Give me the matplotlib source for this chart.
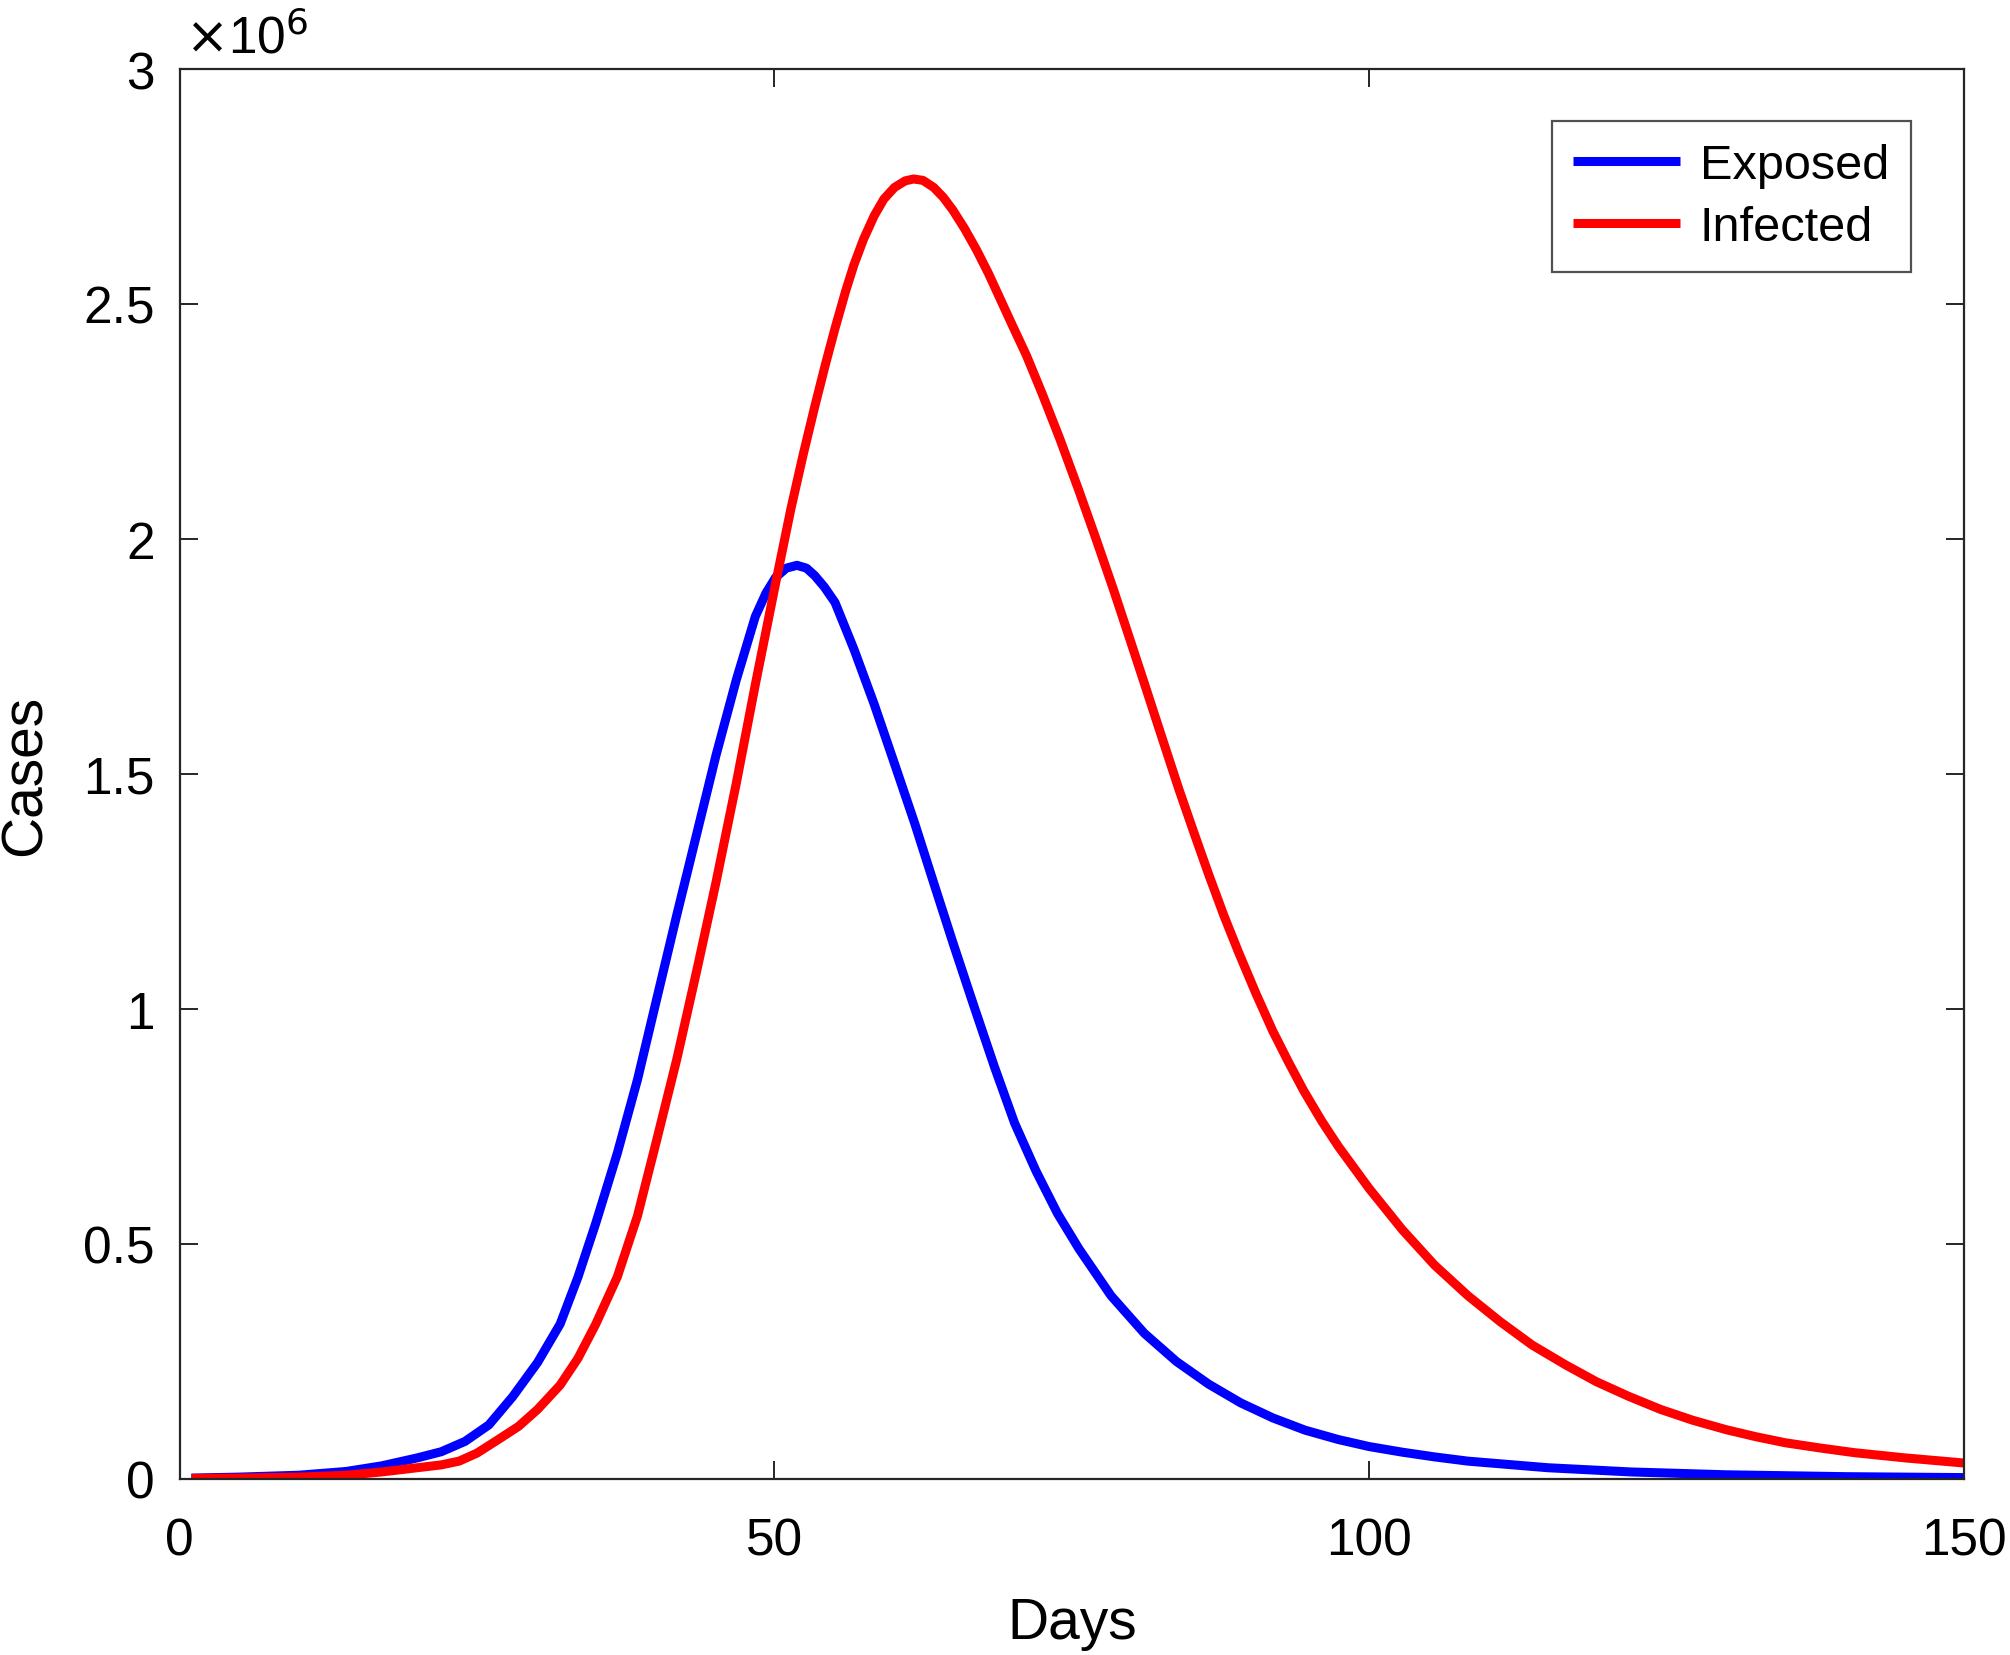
import matplotlib
matplotlib.use("Agg")
import matplotlib.pyplot as plt

plt.rcParams['font.family'] = ['Liberation Sans', 'DejaVu Sans']

# Exposed curve: days and cases (millions)
exposed_days = [1, 5, 10, 14, 17, 20, 22, 24, 26, 28, 30.1, 32, 33.5, 35, 36.8, 38.5, 40.1,
                41.8, 43.5, 45.1, 46.8, 48.4, 49.3, 50.1, 51, 51.9, 52.7, 53.4, 54.2, 55.1,
                56.7, 58.4, 60.1, 61.8, 63.4, 65, 66.7, 68.5, 70.2, 72, 73.8, 75.6, 78.3,
                81.1, 83.8, 86.5, 89.2, 91.9, 94.6, 97.4, 100, 102.8, 105.5, 108.3, 115,
                122, 130, 140, 150]
exposed = [0.002, 0.004, 0.008, 0.016, 0.028, 0.045, 0.058, 0.08, 0.115, 0.175, 0.248, 0.33,
           0.43, 0.545, 0.693, 0.85, 1.02, 1.20, 1.375, 1.54, 1.70, 1.835, 1.885, 1.918, 1.938,
           1.944, 1.938, 1.922, 1.898, 1.865, 1.765, 1.648, 1.522, 1.395, 1.268, 1.142, 1.012,
           0.877, 0.757, 0.655, 0.565, 0.49, 0.39, 0.31, 0.25, 0.202, 0.162, 0.13, 0.104,
           0.084, 0.069, 0.057, 0.047, 0.038, 0.024, 0.015, 0.009, 0.005, 0.003]

# Infected curve: days and cases (millions)
infected_days = [1, 5, 10, 14, 17, 20, 22, 23.5, 25, 26.8, 28.5, 30.1, 32, 33.5, 35, 36.8,
                 38.5, 40.1, 41.8, 43.5, 45.1, 46.8, 48.4, 50.1, 51.4, 52.4, 53.4, 54.3,
                 55.1, 56, 56.7, 57.5, 58.4, 59.2, 60.1, 61, 61.7, 62.5, 63.4, 64.2, 65, 66,
                 67, 68, 69, 70, 71.2, 72.5, 74, 75.6, 77, 78.5, 80, 81.1, 82.5, 84, 85.3,
                 86.5, 87.8, 89, 90.5, 91.9, 93.2, 94.5, 96, 97.4, 100, 102.8, 105.5, 108.3,
                 111, 113.7, 116.5, 119.1, 121.8, 124.5, 127.2, 130, 132.5, 135, 137.9,
                 140.8, 145, 150]
infected = [0.001, 0.002, 0.004, 0.008, 0.015, 0.024, 0.03, 0.038, 0.055, 0.084, 0.112, 0.148,
            0.2, 0.257, 0.33, 0.43, 0.56, 0.72, 0.893, 1.084, 1.27, 1.48, 1.69, 1.905, 2.065,
            2.177, 2.282, 2.372, 2.448, 2.528, 2.584, 2.638, 2.688, 2.723, 2.748, 2.762, 2.766,
            2.763, 2.748, 2.727, 2.70, 2.66, 2.615, 2.565, 2.51, 2.455, 2.39, 2.31, 2.213,
            2.103, 2.003, 1.893, 1.778, 1.693, 1.584, 1.468, 1.373, 1.287, 1.198, 1.122, 1.032,
            0.953, 0.888, 0.826, 0.762, 0.708, 0.618, 0.53, 0.455, 0.39, 0.335, 0.285, 0.243,
            0.207, 0.176, 0.148, 0.125, 0.105, 0.09, 0.077, 0.066, 0.056, 0.045, 0.034]

x_ticks = [0, 50, 100, 150]
y_ticks = [0, 0.5, 1, 1.5, 2, 2.5, 3]
y_tick_labels = ['0', '0.5', '1', '1.5', '2', '2.5', '3']

fig = plt.figure(figsize=(20.10, 16.56), dpi=100)
ax = fig.add_axes([179.5 / 2010, 1 - 1480 / 1656, (1964 - 179.5) / 2010, (1480 - 70) / 1656])

ax.plot(exposed_days, exposed, color='#0000ff', lw=6.5, label='Exposed',
        solid_joinstyle='round', solid_capstyle='butt')
ax.plot(infected_days, infected, color='#ff0000', lw=6.5, label='Infected',
        solid_joinstyle='round', solid_capstyle='butt')

ax.set_xlim(0, 150)
ax.set_ylim(0, 3)
ax.set_xticks(x_ticks)
ax.set_xticklabels([str(t) for t in x_ticks])
ax.set_yticks(y_ticks)
ax.set_yticklabels(y_tick_labels)

for s in ax.spines.values():
    s.set_color('#262626')
    s.set_linewidth(1.6)

ax.tick_params(direction='in', length=13, width=1.4, colors='#262626',
               labelsize=37, top=True, right=True, labelcolor='black')
ax.tick_params(axis='x', pad=27)
ax.tick_params(axis='y', pad=18)

ax.set_xlabel('Days', fontsize=41, labelpad=22)
ax.set_ylabel('Cases', fontsize=41, labelpad=22)

ax.text(0.003, 1.004, r'$\times$10$^{6}$', transform=ax.transAxes, fontsize=37,
        ha='left', va='bottom')

leg = ax.legend(loc='upper right', bbox_to_anchor=(1911 / 2010, 1 - 122 / 1656),
                bbox_transform=fig.transFigure, fontsize=35, frameon=True,
                fancybox=False, edgecolor='#262626', handlelength=2.2,
                handletextpad=0.4, borderpad=0.45, labelspacing=0.36, borderaxespad=0)
leg.get_frame().set_linewidth(1.6)

fig.savefig('out.png', dpi=100)
